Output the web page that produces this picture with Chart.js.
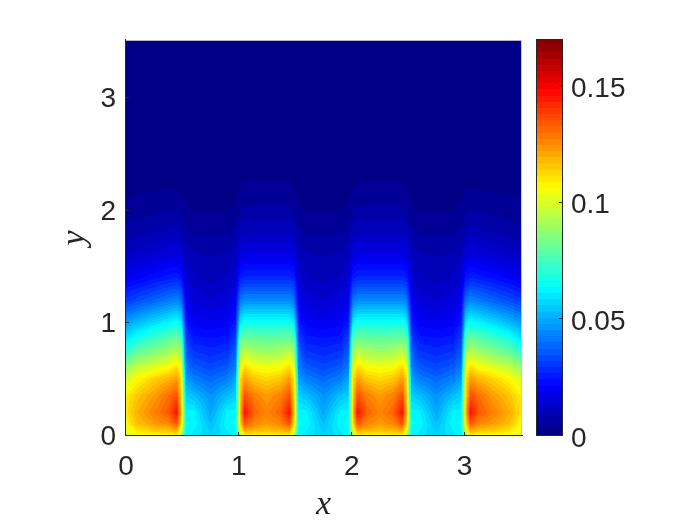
<!DOCTYPE html>
<html>
<head>
<meta charset="utf-8">
<script src="https://cdn.jsdelivr.net/npm/chart.js@4/dist/chart.umd.min.js"></script>
<style>
  body { margin: 0; background: #fff; }
  canvas { position: absolute; left: 0; top: 0; }
</style>
</head>
<body>
<canvas id="heat" width="700" height="525"></canvas>
<canvas id="bar" width="700" height="525"></canvas>
<script>
const xTicks = [0, 1, 2, 3];
const yTicks = [0, 1, 2, 3];
const barTicks = [0, 0.05, 0.1, 0.15];
const barTickLabels = ["0", "0.05", "0.1", "0.15"];
const barMax = 0.1693;

const xGrid = [0, 0.1, 0.25, 0.38, 0.45, 0.49, 0.53, 0.6, 0.75, 0.9, 0.97, 1.01, 1.05, 1.13, 1.25, 1.37, 1.45, 1.49, 1.53, 1.6, 1.75,
  1.9, 1.97, 2.01, 2.05, 2.13, 2.25, 2.37, 2.45, 2.49, 2.53, 2.6, 2.75, 2.9, 2.97, 3.01, 3.05, 3.12, 3.25, 3.4, 3.5];
const yGrid = [0, 0.04, 0.1, 0.2, 0.35, 0.5, 0.6, 0.7, 0.85, 1, 1.2, 1.4, 1.6, 1.8, 2, 2.2, 2.5, 3.5];

// values, in thousandths, one row per yGrid entry
const row00 = [100,104,106,107,108,92,62,60,56,60,62,92,108,108,108,108,108,92,62,60,56,60,62,92,108,108,108,108,108,92,62,60,56,60,62,92,108,107,106,104,100];
const row01 = [103,110,114,116,120,100,63,61,55,61,63,100,120,118,116,118,120,100,63,61,55,61,63,100,120,118,116,118,120,100,63,61,55,61,63,100,120,116,114,110,103];
const row02 = [106,116,122,126,134,110,64,63,53,63,64,110,134,126,122,126,134,110,64,63,53,63,64,110,134,126,122,126,134,110,64,63,53,63,64,110,134,126,122,116,106];
const row03 = [110,119,127,134,146,115,62,62,49,62,62,115,146,132,126,132,146,115,62,62,49,62,62,115,146,132,126,132,146,115,62,62,49,62,62,115,146,134,127,119,110];
const row04 = [108,115,122,130,135,112,56,53,45,53,56,112,135,127,122,127,135,112,56,53,45,53,56,112,135,127,122,127,135,112,56,53,45,53,56,112,135,130,122,115,108];
const row05 = [98,106,113,118,122,110,48,42,38,42,48,110,122,115,112,115,122,110,48,42,38,42,48,110,122,115,112,115,122,110,48,42,38,42,48,110,122,118,113,106,98];
const row06 = [88,96,101,106,112,102,42,36,33,36,42,102,112,106,104,106,112,102,42,36,33,36,42,102,112,106,104,106,112,102,42,36,33,36,42,102,112,106,101,96,88];
const row07 = [76,84,89,94,99,92,38,31,29,31,38,92,99,95,93,95,99,92,38,31,29,31,38,92,99,95,93,95,99,92,38,31,29,31,38,92,99,94,89,84,76];
const row08 = [60,68,74,79,82,78,32,25,24,25,32,78,82,81,80,81,82,78,32,25,24,25,32,78,82,81,80,81,82,78,32,25,24,25,32,78,82,79,74,68,60];
const row09 = [47,52,58,62,65,60,25,20,19,20,25,60,66,66,66,66,66,60,25,20,19,20,25,60,66,66,66,66,66,60,25,20,19,20,25,60,65,62,58,52,47];
const row10 = [30,33,37,41,43,39,19,15,13,15,19,40,44,44,44,44,44,40,19,15,13,15,19,40,44,44,44,44,44,40,19,15,13,15,19,39,43,41,37,33,30];
const row11 = [18,20,23,25,26,24,14,11,9.5,11,14,25,27,27,27,27,27,25,14,11,9.5,11,14,25,27,27,27,27,27,25,14,11,9.5,11,14,24,26,25,23,20,18];
const row12 = [11,12,14,15.5,16,15,10,8.5,7.7,8.5,10,16,17,17,17,17,17,16,10,8.5,7.7,8.5,10,16,17,17,17,17,17,16,10,8.5,7.7,8.5,10,15,16,15.5,14,12,11];
const row13 = [6.2,7,8,9,9.5,8.5,6,5,4.7,5,6,9.5,10.5,10.5,10.5,10.5,10.5,9.5,6,5,4.7,5,6,9.5,10.5,10.5,10.5,10.5,10.5,9.5,6,5,4.7,5,6,8.5,9.5,9,8,7,6.2];
const row14 = [3.6,4,4.5,5,5.2,4.6,3,2.5,2.4,2.5,3,5,5.8,5.8,5.8,5.8,5.8,5,3,2.5,2.4,2.5,3,5,5.8,5.8,5.8,5.8,5.8,5,3,2.5,2.4,2.5,3,4.6,5.2,5,4.5,4,3.6];
const row15 = [1.8,2,2.2,2.4,2.5,2.2,1.3,1,1,1,1.3,2.6,3,3,3,3,3,2.6,1.3,1,1,1,1.3,2.6,3,3,3,3,3,2.6,1.3,1,1,1,1.3,2.2,2.5,2.4,2.2,2,1.8];
const row16 = [0.8,0.9,1,1,1.1,0.9,0.6,0.5,0.5,0.5,0.6,1,1.2,1.2,1.2,1.2,1.2,1,0.6,0.5,0.5,0.5,0.6,1,1.2,1.2,1.2,1.2,1.2,1,0.6,0.5,0.5,0.5,0.6,0.9,1.1,1,1,0.9,0.8];
const row17 = [0.1,0.1,0.1,0.1,0.1,0.1,0.1,0.1,0.1,0.1,0.1,0.1,0.1,0.1,0.1,0.1,0.1,0.1,0.1,0.1,0.1,0.1,0.1,0.1,0.1,0.1,0.1,0.1,0.1,0.1,0.1,0.1,0.1,0.1,0.1,0.1,0.1,0.1,0.1,0.1,0.1];
const rows = [row00, row01, row02, row03, row04, row05, row06, row07, row08, row09, row10, row11, row12, row13, row14, row15, row16, row17];

const inkColor = "#262626";
const tickFont = { family: "'Liberation Sans', Arial, sans-serif", size: 28 };
const mathFont = { family: "'Liberation Serif', serif", size: 34, style: "italic" };

// jet, 64 steps like the MATLAB colormap
const jetLevels = [];
for (let i = 0; i < 64; i++) {
  const t = (i + 0.5) / 64;
  const ramp = (c) => Math.round(255 * Math.max(0, Math.min(1, 1.5 - Math.abs(4 * t - c))));
  jetLevels.push([ramp(3), ramp(2), ramp(1)]);
}

function levelFor(v) {
  return jetLevels[Math.max(0, Math.min(63, Math.floor((v / barMax) * 64)))];
}

function gridIndex(list, value) {
  let i = 0;
  while (i < list.length - 2 && list[i + 1] < value) i++;
  return i;
}

function sample(x, y) {
  const i = gridIndex(xGrid, x);
  const j = gridIndex(yGrid, y);
  const u = Math.max(0, Math.min(1, (x - xGrid[i]) / (xGrid[i + 1] - xGrid[i])));
  const w = Math.max(0, Math.min(1, (y - yGrid[j]) / (yGrid[j + 1] - yGrid[j])));
  const low = rows[j][i] * (1 - u) + rows[j][i + 1] * u;
  const high = rows[j + 1][i] * (1 - u) + rows[j + 1][i + 1] * u;
  return (low * (1 - w) + high * w) / 1000;
}

const heatPlugin = {
  id: "heatPlugin",
  beforeDatasetsDraw(chart) {
    const { ctx, chartArea, scales } = chart;
    const width = chartArea.right - chartArea.left;
    const height = chartArea.bottom - chartArea.top;
    const image = ctx.createImageData(width, height);
    for (let py = 0; py < height; py++) {
      const y = scales.y.getValueForPixel(chartArea.top + py + 0.5);
      for (let px = 0; px < width; px++) {
        const x = scales.x.getValueForPixel(chartArea.left + px + 0.5);
        const c = levelFor(sample(x, y));
        const k = (py * width + px) * 4;
        image.data[k] = c[0];
        image.data[k + 1] = c[1];
        image.data[k + 2] = c[2];
        image.data[k + 3] = 255;
      }
    }
    ctx.putImageData(image, chartArea.left, chartArea.top);
  },
  afterDraw(chart) {
    const { ctx, chartArea, scales } = chart;
    const { left, right, top, bottom } = chartArea;
    ctx.save();
    ctx.fillStyle = "#b4b4c8";
    ctx.fillRect(left - 1, top - 1, right - left + 1, 1);
    ctx.fillStyle = "#c4c4ee";
    ctx.fillRect(right, top - 1, 1, bottom - top + 1);
    ctx.fillStyle = inkColor;
    ctx.fillRect(left - 1, top - 2, 1, bottom - top + 3);
    ctx.fillRect(left - 1, bottom, right - left + 3, 1);
    xTicks.forEach((v) => {
      ctx.fillRect(Math.round(scales.x.getPixelForValue(v)) - 1, bottom - 3, 1, 3);
    });
    yTicks.forEach((v) => {
      ctx.fillRect(left, Math.round(scales.y.getPixelForValue(v)), 3, 1);
    });
    ctx.restore();
  },
};

const barPlugin = {
  id: "barPlugin",
  beforeDatasetsDraw(chart) {
    const { ctx, chartArea, scales } = chart;
    jetLevels.forEach((c, i) => {
      const y0 = Math.round(scales.y.getPixelForValue((i / 64) * barMax));
      const y1 = Math.round(scales.y.getPixelForValue(((i + 1) / 64) * barMax));
      ctx.fillStyle = "rgb(" + c.join(",") + ")";
      ctx.fillRect(chartArea.left, y1, chartArea.right - chartArea.left, y0 - y1);
    });
  },
  afterDraw(chart) {
    const { ctx, chartArea, scales } = chart;
    const { left, right, top, bottom } = chartArea;
    ctx.save();
    ctx.strokeStyle = inkColor;
    ctx.lineWidth = 1;
    ctx.strokeRect(left - 0.5, top - 0.5, right - left + 1, bottom - top + 1);
    ctx.fillStyle = inkColor;
    barTicks.forEach((v) => {
      ctx.fillRect(right - 3, Math.round(scales.y.getPixelForValue(v)), 3, 1);
    });
    ctx.restore();
  },
};

const heatPoints = [];
yGrid.forEach((y, j) => xGrid.forEach((x, i) => heatPoints.push({ x: x, y: y, v: rows[j][i] })));

const heatChart = new Chart(document.getElementById("heat").getContext("2d"), {
  type: "scatter",
  data: { datasets: [{ data: heatPoints, pointRadius: 0 }] },
  options: {
    responsive: false,
    animation: false,
    layout: { padding: { top: 41, right: 179, left: 0, bottom: 0 } },
    plugins: { legend: { display: false }, tooltip: { enabled: false } },
    scales: {
      x: {
        type: "linear", min: 0, max: 3.5,
        grid: { display: false, drawTicks: false }, border: { display: false },
        afterBuildTicks: (s) => { s.ticks = xTicks.map((v) => ({ value: v })); },
        afterFit: (s) => { s.height = 90; },
        ticks: { font: tickFont, color: inkColor, padding: 15, maxRotation: 0 },
        title: { display: true, text: "x", font: mathFont, color: inkColor, padding: { top: 0, bottom: 0 } },
      },
      y: {
        type: "linear", min: 0, max: 3.5,
        grid: { display: false, drawTicks: false }, border: { display: false },
        afterBuildTicks: (s) => { s.ticks = yTicks.map((v) => ({ value: v })); },
        afterFit: (s) => { s.width = 126; },
        ticks: { font: tickFont, color: inkColor, padding: 10, labelOffset: 2 },
        title: { display: true, text: "y", font: mathFont, color: inkColor, padding: { top: 55, bottom: 0 } },
      },
    },
  },
  plugins: [heatPlugin],
});

const barChart = new Chart(document.getElementById("bar").getContext("2d"), {
  type: "scatter",
  data: { datasets: [{ data: barTicks.map((v) => ({ x: 0, y: v })), pointRadius: 0 }] },
  options: {
    responsive: false,
    animation: false,
    layout: { padding: { top: 40, left: 537, right: 0, bottom: 90 } },
    plugins: { legend: { display: false }, tooltip: { enabled: false } },
    scales: {
      x: { display: false, min: 0, max: 1 },
      y: {
        type: "linear", position: "right", min: 0, max: barMax,
        grid: { display: false, drawTicks: false }, border: { display: false },
        afterBuildTicks: (s) => { s.ticks = barTicks.map((v) => ({ value: v })); },
        afterFit: (s) => { s.width = 138; },
        ticks: {
          font: tickFont, color: inkColor, padding: 9, labelOffset: 4,
          callback: (v) => barTickLabels[barTicks.indexOf(v)],
        },
      },
    },
  },
  plugins: [barPlugin],
});
</script>
</body>
</html>
